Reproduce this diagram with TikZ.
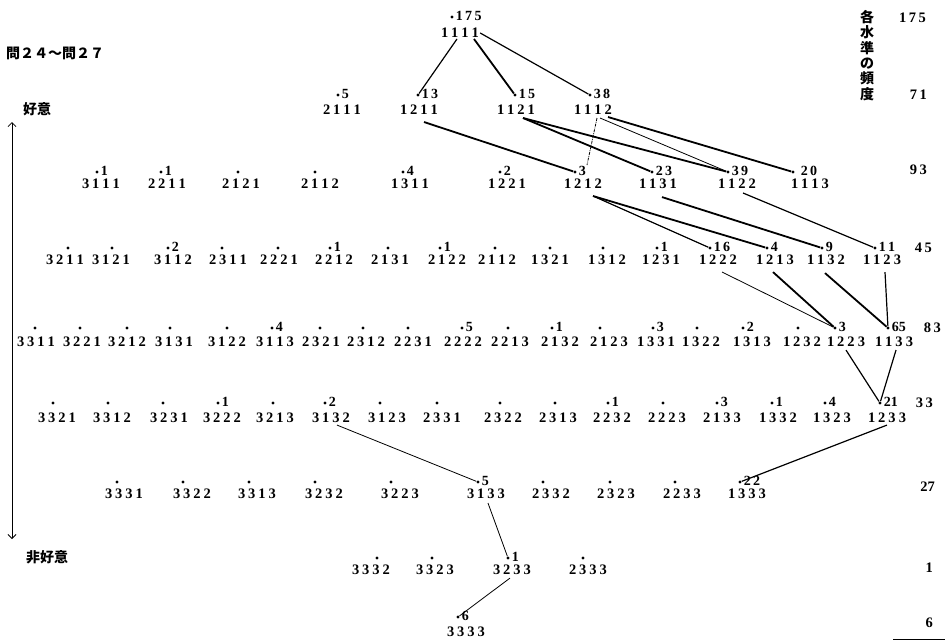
\documentclass[tikz,border=0pt]{standalone}
\usepackage{fontspec}
\setmainfont{Liberation Serif}
\newfontfamily\cjk{Noto Sans CJK JP}
\usetikzlibrary{arrows.meta}
\newcommand\cd[4]{#1\kern3pt#2\kern3pt#3\kern3pt#4}
\tikzset{
  codebox/.style={inner sep=0pt, font=\fontsize{14.5}{14.5}\selectfont\bfseries},
  dotnode/.style={circle, fill=black, inner sep=0pt, minimum size=3.4pt},
  freqlab/.style={anchor=west, inner sep=0pt, font=\fontsize{14}{14}\selectfont\bfseries},
  lvl/.style={anchor=east, inner sep=0pt, font=\fontsize{14.5}{14.5}\selectfont\bfseries},
  jp/.style={inner sep=0pt, font=\fontsize{14}{15.4}\selectfont\cjk\bfseries},
  lthick/.style={line width=1.8pt},
  lmid/.style={line width=1.2pt},
  lthin/.style={line width=0.8pt},
}
\newcommand\stx[7]{%
  \node[codebox] (c#1) at (#3,#4) {\cd#2};
  \node[dotnode] (d#1) at (#5,#6) {};
  \if\relax\detokenize{#7}\relax\else
    \node[freqlab] (f#1) at ([xshift=1.8pt,yshift=1.5pt]d#1.east) {#7};
  \fi}
\newcommand\st[6]{\stx{#1}{#1}{#2}{#3}{#4}{#5}{#6}}
\begin{document}
\begin{tikzpicture}[x=1pt,y=-1pt]
\useasboundingbox (0,0) rectangle (945,640);
% ---- headings
\node[jp, anchor=west] (title) at (6,53) {問２４〜問２７};
\node[jp, anchor=west] (fav) at (23,109) {好意};
\node[jp, anchor=west] (unfav) at (26,557) {非好意};
\coordinate (arrtop) at (12,122);
\coordinate (arrbot) at (12,539);
\draw[line width=0.8pt, {Straight Barb[length=4pt,width=8pt]}-{Straight Barb[length=4pt,width=8pt]}] (arrtop) -- (arrbot);
\node[jp, anchor=north, align=center] (hdr) at (867,10) {各\\水\\準\\の\\頻\\度};
% ---- level totals
\node[lvl] (t1) at (926,18) {1\,7\,5};
\node[lvl] (t2) at (927,95) {7\,1};
\node[lvl] (t3) at (927,170) {9\,3};
\node[lvl] (t4) at (932,248) {4\,5};
\node[lvl] (t5) at (941,328) {8\,3};
\node[lvl] (t6) at (933,403) {3\,3};
\node[lvl] (t7) at (935,487) {27};
\node[lvl] (t8) at (933,568) {1};
\node[lvl] (t9) at (933,623) {6};
\coordinate (ruleA) at (893,639);
\coordinate (ruleB) at (945,639);
\draw[line width=0.8pt] (ruleA) -- (ruleB);
% ---- row 1
\st{1111}{460}{33}{452}{17}{1\,7\,5}
% ---- row 2
\st{2111}{342}{110}{338}{95}{5}
\st{1211}{419}{110}{418}{95}{1\,3}
\st{1121}{516}{110}{515}{95}{1\,5}
\st{1112}{593}{110}{590}{95}{3\,8}
% ---- row 3
\st{3111}{101}{184}{97}{172}{1}
\st{2211}{167}{184}{161}{172}{1}
\st{2121}{241}{184}{238}{172}{}
\st{2112}{320}{184}{315}{172}{}
\st{1311}{410}{184}{403}{172}{4}
\st{1221}{507}{184}{500}{172}{2}
\st{1212}{583}{184}{575}{172}{3}
\st{1131}{658}{184}{652}{172}{2\,3}
\st{1122}{737}{184}{728}{172}{3\,9}
\st{1113}{810}{184}{793}{172}{\hspace{4pt}2\,0}
% ---- row 4
\st{3211}{65}{260}{68}{248}{}
\st{3121}{111}{260}{112}{248}{}
\st{3112}{173}{260}{168}{248}{2}
\st{2311}{228}{260}{222}{248}{}
\st{2221}{279}{260}{278}{248}{}
\st{2212}{334}{260}{330}{248}{1}
\st{2131}{390}{260}{388}{248}{}
\st{2122}{447}{260}{440}{248}{1}
\stx{2113}{2112}{497}{260}{495}{248}{}
\st{1321}{550}{260}{550}{248}{}
\st{1312}{607}{260}{603}{248}{}
\st{1231}{661}{260}{657}{248}{1}
\st{1222}{718}{260}{710}{248}{1\,6}
\st{1213}{775}{260}{767}{248}{4}
\st{1132}{826}{260}{822}{248}{9}
\st{1123}{882}{260}{875}{248}{1\,1}
% ---- row 5
\st{3311}{36}{342}{35}{328}{}
\st{3221}{82}{342}{80}{328}{}
\st{3212}{127}{342}{127}{328}{}
\st{3131}{174}{342}{170}{328}{}
\st{3122}{227}{342}{227}{328}{}
\st{3113}{275}{342}{272}{328}{4}
\st{2321}{321}{342}{320}{328}{}
\st{2312}{366}{342}{363}{328}{}
\st{2231}{413}{342}{408}{328}{}
\st{2222}{463}{342}{462}{328}{5}
\st{2213}{510}{342}{508}{328}{}
\st{2132}{560}{342}{552}{328}{1}
\st{2123}{609}{342}{600}{328}{}
\st{1331}{656}{342}{653}{328}{3}
\st{1322}{701}{342}{697}{328}{}
\st{1313}{752}{342}{743}{328}{2}
\st{1232}{802}{342}{798}{328}{}
\st{1223}{846}{342}{835}{328}{3}
\st{1133}{894}{342}{888}{328}{65}
% ---- row 6
\st{3321}{57}{418}{53}{403}{}
\st{3312}{112}{418}{108}{403}{}
\st{3231}{169}{418}{163}{403}{}
\st{3222}{222}{418}{218}{403}{1}
\st{3213}{275}{418}{273}{403}{}
\st{3132}{331}{418}{325}{403}{2}
\st{3123}{387}{418}{380}{403}{}
\st{2331}{442}{418}{437}{403}{}
\st{2322}{503}{418}{500}{403}{}
\st{2313}{558}{418}{555}{403}{}
\st{2232}{612}{418}{608}{403}{1}
\st{2223}{667}{418}{663}{403}{}
\st{2133}{722}{418}{717}{403}{3}
\st{1332}{778}{418}{772}{403}{1}
\st{1323}{832}{418}{825}{403}{4}
\st{1233}{887}{418}{880}{403}{21}
% ---- row 7
\st{3331}{124}{494}{117}{482}{}
\st{3322}{192}{494}{183}{482}{}
\st{3313}{257}{494}{249}{482}{}
\st{3232}{324}{494}{315}{482}{}
\st{3223}{400}{494}{391}{482}{}
\st{3133}{486}{494}{478}{482}{5}
\st{2332}{551}{494}{543}{482}{}
\st{2323}{616}{494}{610}{482}{}
\st{2233}{682}{494}{675}{482}{}
\st{1333}{747}{494}{740}{482}{2\,2}
% ---- row 8
\st{3332}{371}{570}{377}{558}{}
\st{3323}{435}{570}{432}{558}{}
\st{3233}{512}{570}{508}{558}{1}
\st{2333}{588}{570}{583}{558}{}
% ---- row 9
\st{3333}{466}{632}{458}{617}{6}
% ---- connectors
\draw[lmid]   ([shift={(-3,1)}]c1111.south) -- (d1211);
\draw[lthick] ([shift={(14,1)}]c1111.south) -- (d1121);
\draw[lmid]   ([shift={(1,0)}]c1111.east) -- (d1112);
\draw[lthick] ([shift={(5,7)}]c1211.south) -- (d1212);
\draw[lthick] ([shift={(7,3)}]c1121.south) -- (d1131);
\draw[lthick] ([shift={(7,3)}]c1121.south) -- (d1122);
\draw[lthin, densely dashdotted] ([shift={(4,3)}]c1112.south) -- ([shift={(12,-7)}]d1212.center);
\draw[lthin]  ([shift={(7,3)}]c1112.south) -- (d1122);
\draw[lthick] ([shift={(15,2)}]c1112.south) -- (d1113);
\draw[lmid]   ([shift={(10,7)}]c1212.south) -- (d1222);
\draw[lthick] ([shift={(10,7)}]c1212.south) -- (d1213);
\draw[lthick] ([shift={(4,8)}]c1131.south) -- (d1132);
\draw[lmid]   ([shift={(6,4)}]c1122.south) -- (d1123);
\draw[lthin]  ([shift={(4,7)}]c1222.south) -- (d1223);
\draw[lthick] ([shift={(-2,7)}]c1213.south) -- (d1223);
\draw[lthick] ([shift={(-1,8)}]c1132.south) -- (d1133);
\draw[lmid]   ([shift={(3,7)}]c1123.south) -- (d1133);
\draw[lmid]   ([shift={(0,3)}]c1223.south) -- (d1233);
\draw[lmid]   ([shift={(2,3)}]c1133.south) -- (d1233);
\draw[lmid]   ([shift={(0,2)}]c1233.south) -- (d1333);
\draw[lthin]  ([shift={(6,2)}]c3132.south) -- (d3133);
\draw[lthin]  ([shift={(2,4)}]c3133.south) -- (d3233);
\draw[lthin]  ([shift={(-2,3)}]c3233.south) -- (d3333);
\end{tikzpicture}
\end{document}
